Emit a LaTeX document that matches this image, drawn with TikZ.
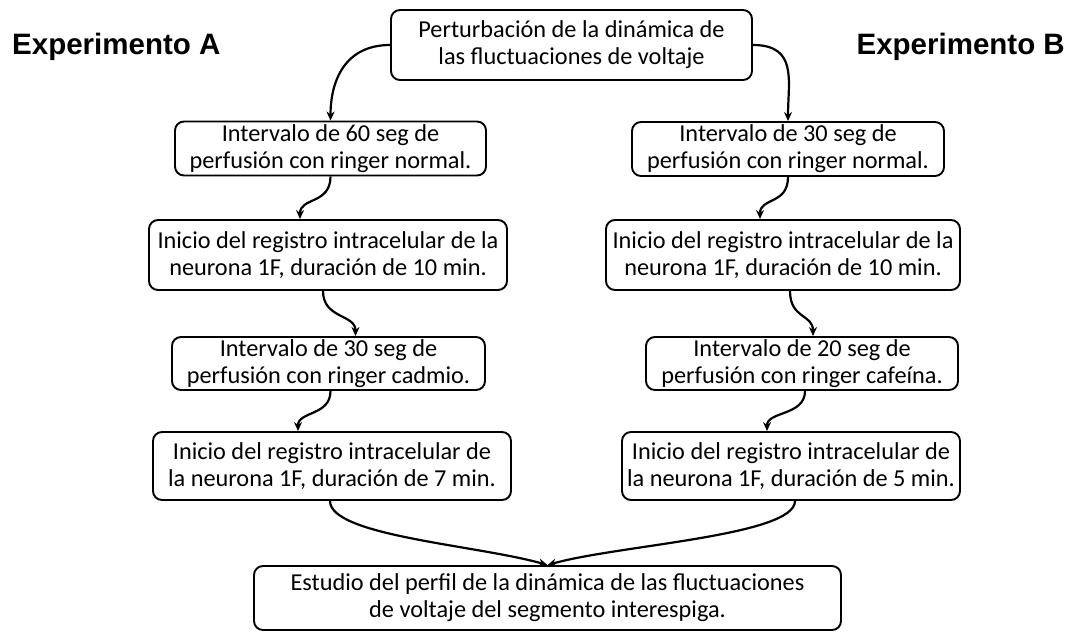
\documentclass[tikz,border=0pt]{standalone}
\usepackage{fontspec}
\setmainfont{Carlito}
\newfontfamily\headfont{Liberation Sans}
\usetikzlibrary{arrows.meta,calc}
\begin{document}
\begin{tikzpicture}[x=1pt,y=-1pt,
  box/.style={draw, line width=1.9pt, rounded corners=9pt, align=center, inner sep=0pt,
    font=\fontsize{24.3}{27}\selectfont},
  conn/.style={-{Stealth[length=9pt,width=8pt]}, line width=2.2pt},
  head/.style={font=\headfont\bfseries\fontsize{29.5}{33}\selectfont, inner sep=0pt}]
\useasboundingbox (0,0) rectangle (1075,636);
\node[head, anchor=west] (hA) at (12,47) {Experimento A};
\node[head, anchor=east] (hB) at (1065,47) {Experimento B};

\node[box, minimum width=361pt, minimum height=70pt] (top) at (571.5,45) {Perturbación de la dinámica de\\las fluctuaciones de voltaje};
\node[box, minimum width=311pt, minimum height=54pt] (A1) at (330.5,148.5) {Intervalo de 60 seg de\\perfusión con ringer normal.};
\node[box, minimum width=358pt, minimum height=70pt] (A2) at (328,255) {Inicio del registro intracelular de la\\neurona 1F, duración de 10 min.};
\node[box, minimum width=313pt, minimum height=53pt] (A3) at (328.5,363.5) {Intervalo de 30 seg de\\perfusión con ringer cadmio.};
\node[box, minimum width=358pt, minimum height=68pt] (A4) at (332,466) {Inicio del registro intracelular de\\la neurona 1F, duración de 7 min.};

\node[box, minimum width=312pt, minimum height=54pt] (B1) at (788,149) {Intervalo de 30 seg de\\perfusión con ringer normal.};
\node[box, minimum width=354pt, minimum height=70pt] (B2) at (783,255) {Inicio del registro intracelular de la\\neurona 1F, duración de 10 min.};
\node[box, minimum width=312pt, minimum height=53pt] (B3) at (802,363.5) {Intervalo de 20 seg de\\perfusión con ringer cafeína.};
\node[box, minimum width=338pt, minimum height=68pt] (B4) at (791,466) {Inicio del registro intracelular de\\la neurona 1F, duración de 5 min.};

\node[box, minimum width=587pt, minimum height=64pt] (E) at (547.5,598) {Estudio del perfil de la dinámica de las fluctuaciones\\de voltaje del segmento interespiga.};

\coordinate (a2in) at ($(A2.north)+(-28,0)$);
\coordinate (a3out) at ($(A2.south)+(-5,0)$);
\coordinate (a3in) at ($(A3.north)+(27,0)$);
\coordinate (a4out) at ($(A3.south)+(2,0)$);
\coordinate (a4in) at ($(A4.north)+(-34,0)$);
\coordinate (b2in) at ($(B2.north)+(-23,0)$);
\coordinate (b3out) at ($(B2.south)+(7,0)$);
\coordinate (b3in) at ($(B3.north)+(11,0)$);
\coordinate (b4out) at ($(B3.south)+(3,0)$);
\coordinate (b4in) at ($(B4.north)+(-24,0)$);
\coordinate (eA) at ($(A4.south)+(-2,0)$);
\coordinate (eB) at ($(B4.south)+(4,0)$);

\draw[conn] (top.west) .. controls +(-45,0) and +(0,-40) .. (A1.north);
\draw[conn] (top.east) .. controls +(45,0) and +(0,-40) .. (B1.north);
\draw[conn] (A1.south) .. controls +(0,28) and +(0,-22) .. (a2in);
\draw[conn] (a3out) .. controls +(0,28) and +(0,-22) .. (a3in);
\draw[conn] (a4out) .. controls +(0,25) and +(0,-20) .. (a4in);
\draw[conn] (B1.south) .. controls +(0,28) and +(0,-22) .. (b2in);
\draw[conn] (b3out) .. controls +(0,28) and +(0,-22) .. (b3in);
\draw[conn] (b4out) .. controls +(0,25) and +(0,-20) .. (b4in);
\draw[conn] (eA) .. controls +(0,35) and +(-70,-20) .. (E.north);
\draw[conn] (eB) .. controls +(0,35) and +(70,-20) .. (E.north);
\end{tikzpicture}
\end{document}
